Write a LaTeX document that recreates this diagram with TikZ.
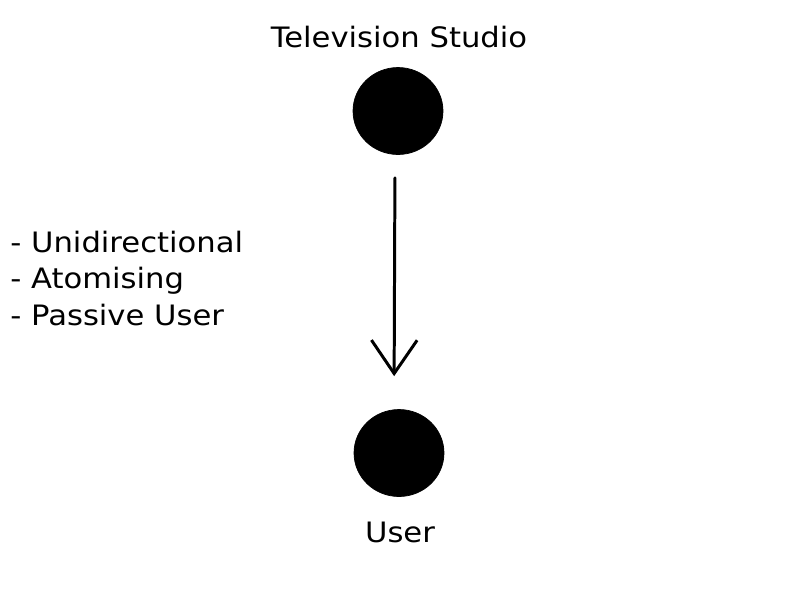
\documentclass[tikz,border=0pt]{standalone}
\usepackage{fontspec}
\setmainfont[FakeStretch=1.09]{DejaVu Sans}
\usetikzlibrary{shapes}
\usetikzlibrary{arrows.meta}
\tikzset{
    mydot/.style = {ellipse, draw=black, fill=black, inner sep=0pt, minimum width=1.8cm, minimum height=1.74cm},
    mylabel/.style = {inner sep=0pt, font=\fontsize{16}{20.5}\selectfont},
    edgev/.style = {-{Straight Barb[length=19pt,width=26pt]}, line width=1.7pt, line cap=round, line join=round, shorten <=0.46cm, shorten >=0.66cm}
}
\begin{document}
\begin{tikzpicture}[x=0.02cm,y=-0.02cm]
\useasboundingbox (0,0) rectangle (800,600);
%
\node[mydot] at (398,111) (studio) {};
\node[mydot] at (399,453) (user) {};
%
\node[mylabel,anchor=base] at (399,47) (studiolabel) {Television Studio};
\node[mylabel,anchor=base] at (400,542) (userlabel) {User};
\node[mylabel,anchor=base west,align=left] at (10,325) (props) {- Unidirectional\\- Atomising\\- Passive User};
%
\draw[edgev] ([xshift=-0.06cm]studio.south) -- ([xshift=-0.1cm]user.north);

\end{tikzpicture}
\end{document}
